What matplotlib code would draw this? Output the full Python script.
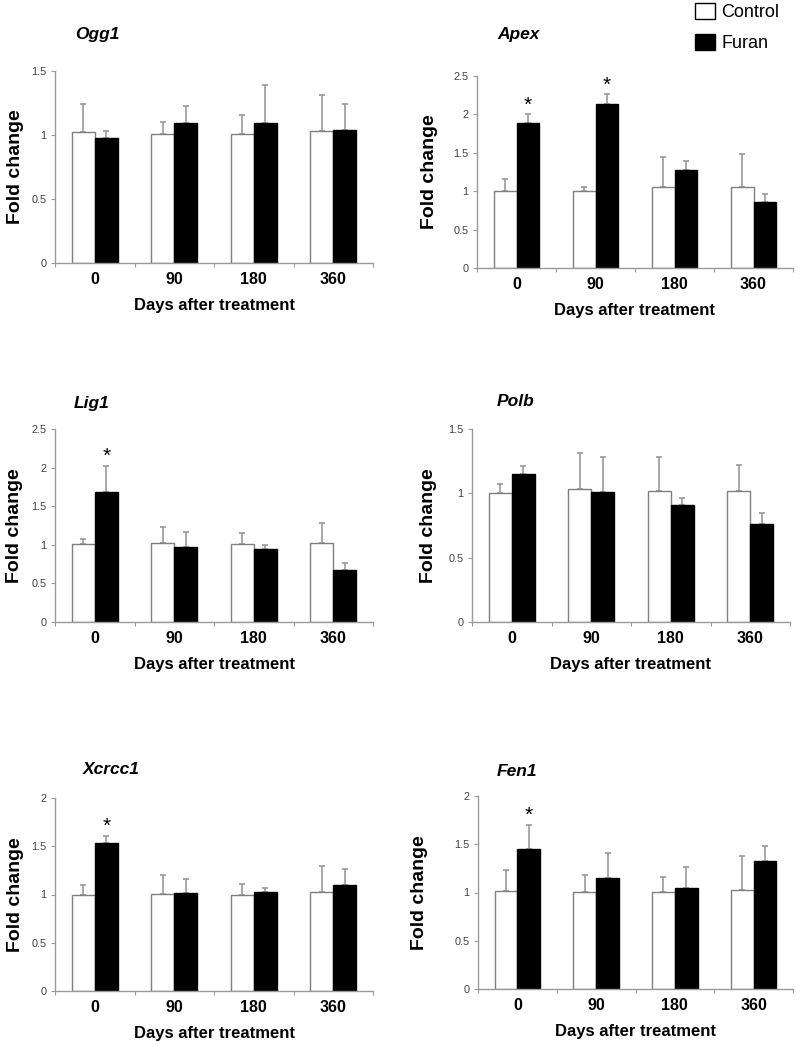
import matplotlib
matplotlib.use("Agg")
import matplotlib.pyplot as plt
from matplotlib.patches import Patch
import numpy as np

plt.rcParams['font.family'] = ['Liberation Sans', 'DejaVu Sans']

# ---------------- data ----------------
days = ["0", "90", "180", "360"]
genes = ["Ogg1", "Apex", "Lig1", "Polb", "Xcrcc1", "Fen1"]

ogg1_control = [1.02, 1.01, 1.01, 1.03]
ogg1_control_err = [0.22, 0.09, 0.15, 0.28]
ogg1_furan = [0.98, 1.09, 1.09, 1.04]
ogg1_furan_err = [0.05, 0.14, 0.30, 0.20]

apex_control = [1.00, 1.00, 1.06, 1.06]
apex_control_err = [0.16, 0.06, 0.39, 0.42]
apex_furan = [1.89, 2.14, 1.28, 0.86]
apex_furan_err = [0.11, 0.12, 0.11, 0.11]

lig1_control = [1.01, 1.02, 1.01, 1.02]
lig1_control_err = [0.06, 0.21, 0.14, 0.26]
lig1_furan = [1.69, 0.97, 0.94, 0.67]
lig1_furan_err = [0.33, 0.19, 0.06, 0.09]

polb_control = [1.00, 1.03, 1.02, 1.02]
polb_control_err = [0.07, 0.28, 0.26, 0.20]
polb_furan = [1.15, 1.01, 0.91, 0.76]
polb_furan_err = [0.06, 0.27, 0.05, 0.09]

xrcc1_control = [1.00, 1.01, 1.00, 1.03]
xrcc1_control_err = [0.10, 0.19, 0.11, 0.27]
xrcc1_furan = [1.53, 1.02, 1.03, 1.10]
xrcc1_furan_err = [0.08, 0.14, 0.04, 0.16]

fen1_control = [1.02, 1.01, 1.01, 1.03]
fen1_control_err = [0.21, 0.17, 0.15, 0.35]
fen1_furan = [1.45, 1.15, 1.05, 1.33]
fen1_furan_err = [0.25, 0.26, 0.21, 0.15]

# significance flags for Furan bars
ogg1_sig = [False, False, False, False]
apex_sig = [True, True, False, False]
lig1_sig = [True, False, False, False]
polb_sig = [False, False, False, False]
xrcc1_sig = [True, False, False, False]
fen1_sig = [True, False, False, False]

y_max = [1.5, 2.5, 2.5, 1.5, 2.0, 2.0]

panels = [
    (ogg1_control, ogg1_control_err, ogg1_furan, ogg1_furan_err, ogg1_sig),
    (apex_control, apex_control_err, apex_furan, apex_furan_err, apex_sig),
    (lig1_control, lig1_control_err, lig1_furan, lig1_furan_err, lig1_sig),
    (polb_control, polb_control_err, polb_furan, polb_furan_err, polb_sig),
    (xrcc1_control, xrcc1_control_err, xrcc1_furan, xrcc1_furan_err, xrcc1_sig),
    (fen1_control, fen1_control_err, fen1_furan, fen1_furan_err, fen1_sig),
]

# ---------------- layout (pixel boxes: left, right, y_bottom, y_top) ----------------
W, H = 800, 1041
boxes = [
    (55, 373, 263, 71),
    (477, 793, 268, 76),
    (55, 373, 622, 429),
    (472, 790, 622, 429),
    (55, 373, 991, 798),
    (478, 793, 989, 796),
]
title_pos = [(75, 34), (497, 34), (74, 403), (497, 401), (83, 770), (497, 772)]
ylabel_off = [42, 50, 43, 46, 42, 61]

fig = plt.figure(figsize=(W / 100, H / 100), dpi=100)

gray = "#9a9a9a"
bar_w = 0.29
x = np.arange(len(days))

for i, (ctrl, ctrl_e, fur, fur_e, sig) in enumerate(panels):
    l, r, yb, yt = boxes[i]
    ax = fig.add_axes([l / W, 1 - yb / H, (r - l) / W, (yb - yt) / H])
    ax.bar(x - bar_w / 2, ctrl, bar_w, color="white", edgecolor="#7f7f7f",
           linewidth=1.0, zorder=2)
    ax.bar(x + bar_w / 2, fur, bar_w, color="black", edgecolor="black",
           linewidth=1.0, zorder=2)
    ax.errorbar(x - bar_w / 2, ctrl, yerr=[np.zeros(4), ctrl_e], fmt="none",
                ecolor=gray, elinewidth=1.2, capsize=2.2, capthick=1.2, zorder=1)
    ax.errorbar(x + bar_w / 2, fur, yerr=[np.zeros(4), fur_e], fmt="none",
                ecolor=gray, elinewidth=1.2, capsize=2.2, capthick=1.2, zorder=1)
    for j in range(len(days)):
        if sig[j]:
            ax.annotate("*", (x[j] + bar_w / 2, fur[j] + fur_e[j]),
                        xytext=(0, 0), textcoords="offset points",
                        ha="center", va="bottom", fontsize=15)

    ax.set_xlim(-0.5, 3.5)
    ax.set_ylim(0, y_max[i])
    ax.set_yticks(np.arange(0, y_max[i] + 0.01, 0.5))
    ax.set_yticklabels([f"{v:g}" for v in np.arange(0, y_max[i] + 0.01, 0.5)])
    ax.tick_params(axis="y", direction="out", length=3, width=0.8, color=gray,
                   labelsize=7.8, labelcolor="#404040", pad=3)
    ax.set_xticks(x)
    ax.set_xticklabels(days, fontsize=11.5, fontweight="bold")
    ax.tick_params(axis="x", which="major", length=0, pad=6.5)
    ax.set_xticks(np.arange(-0.5, 4.0, 1.0), minor=True)
    ax.tick_params(axis="x", which="minor", direction="out", length=3,
                   width=0.8, color=gray)

    for s in ["top", "right"]:
        ax.spines[s].set_visible(False)
    for s in ["left", "bottom"]:
        ax.spines[s].set_color(gray)
        ax.spines[s].set_linewidth(1.0)

    ax.set_xlabel("Days after treatment", fontsize=12, fontweight="bold",
                  labelpad=8)
    ax.set_ylabel("Fold change", fontsize=14, fontweight="bold")
    ax.yaxis.set_label_coords(-(ylabel_off[i] - 11) / (r - l), 0.5)

    tx, ty = title_pos[i]
    fig.text(tx / W, 1 - ty / H, genes[i], fontsize=12.5, fontweight="bold",
             fontstyle="italic", ha="left", va="center")

handles = [Patch(facecolor="white", edgecolor="black", linewidth=1.0, label="Control"),
           Patch(facecolor="black", edgecolor="black", linewidth=1.0, label="Furan")]
fig.legend(handles=handles, loc="upper left", bbox_to_anchor=(695 / W, 1 - 3 / H),
           frameon=False, fontsize=13, handlelength=1.1, handleheight=1.0,
           handletextpad=0.35, labelspacing=0.7, borderpad=0, borderaxespad=0)

fig.savefig("out.png", dpi=100)
